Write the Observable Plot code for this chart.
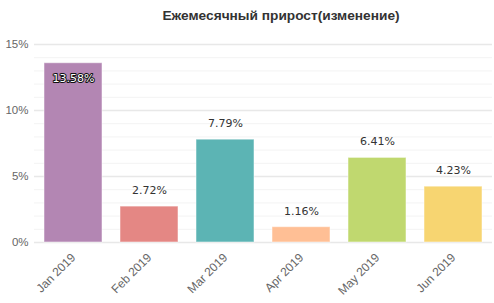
<!DOCTYPE html>
<html><head><meta charset="utf-8">
<script src="https://cdn.jsdelivr.net/npm/d3@7"></script>
<script src="https://cdn.jsdelivr.net/npm/@observablehq/plot@0.6"></script>
<style>
body{margin:0;background:#fff;font-family:"Liberation Sans",Arial,sans-serif;}
#title{height:32px;line-height:32px;width:494px;text-align:center;padding-left:68px;box-sizing:border-box;font-size:13.7px;font-weight:bold;color:#333;}
</style></head>
<body>
<div id="title">Ежемесячный прирост(изменение)</div>
<div id="chart"></div>
<script>
const months = ["Jan 2019","Feb 2019","Mar 2019","Apr 2019","May 2019","Jun 2019"];
const values = [13.58, 2.72, 7.79, 1.16, 6.41, 4.23];
const colors = ["#b386b3","#e48784","#5cb4b4","#ffbf95","#c0d86f","#f7d571"];
const yTicks = [0, 5, 10, 15];
const minorTicks = [1, 2, 3, 4, 6, 7, 8, 9, 11, 12, 13, 14];

const data = months.map((m, i) => ({month: m, value: values[i], color: colors[i]}));
const fmt = v => v.toFixed(2) + "%";

const chart = Plot.plot({
  width: 494,
  height: 271,
  marginTop: 12,
  marginBottom: 61,
  marginLeft: 34,
  marginRight: 2,
  style: {fontFamily: "Liberation Sans, Arial, sans-serif", fontSize: "11px", color: "#666", background: "#fff"},
  x: {domain: months, paddingInner: 0.24, paddingOuter: 0.12, label: null},
  y: {domain: [0, 15], label: null},
  marks: [
    Plot.ruleY(minorTicks, {stroke: "#f3f3f3", strokeWidth: 1}),
    Plot.ruleY(yTicks, {stroke: "#e8e8e8", strokeWidth: 1.5}),
    Plot.axisY(yTicks, {tickSize: 0, tickPadding: 6, tickFormat: d => d + "%", fontSize: 11.5, fill: "#666", label: null}),
    Plot.axisX({tickSize: 0, tickPadding: 13, tickRotate: -45, fontSize: 12, fill: "#666", label: null}),
    Plot.barY(data, {x: "month", y: "value", fill: d => d.color, stroke: "#ffffff", strokeOpacity: 0.5, strokeWidth: 1}),
    Plot.text(data.filter(d => d.value < 10), {x: "month", y: "value", text: d => fmt(d.value), dy: -16, fill: "#333", fontSize: 11, fontFamily: "DejaVu Sans, Verdana, sans-serif"}),
    Plot.text(data.filter(d => d.value >= 10), {x: "month", y: "value", text: d => fmt(d.value), dy: 15, fill: "#fff", stroke: "#111", strokeWidth: 2, paintOrder: "stroke", fontSize: 11, fontFamily: "DejaVu Sans, Verdana, sans-serif"})
  ]
});
document.getElementById("chart").appendChild(chart);
</script>
</body></html>
